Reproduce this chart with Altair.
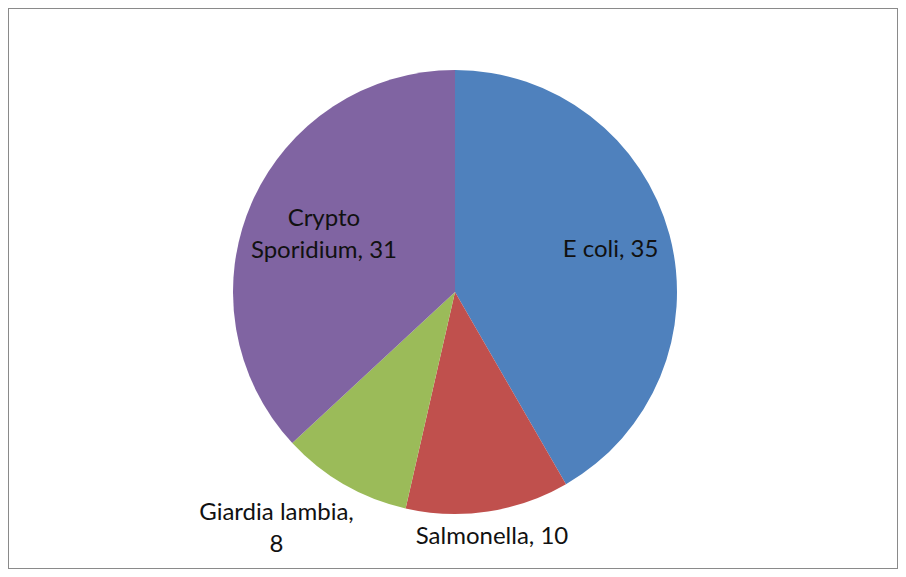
import altair as alt

categories = ["E coli", "Salmonella", "Giardia lambia", "Crypto Sporidium"]
values = [35, 10, 8, 31]
label_lines = [["E coli, 35"], ["Salmonella, 10"], ["Giardia lambia,", "8"], ["Crypto", "Sporidium, 31"]]
colors = ["#4F81BD", "#C0504D", "#9BBB59", "#8064A2"]

rows = [
    {"cat": c, "val": v, "order": i, "label": l}
    for i, (c, v, l) in enumerate(zip(categories, values, label_lines))
]
data = alt.Data(values=rows)

CX, CY = 447, 284

base = alt.Chart(data).encode(
    theta=alt.Theta("val:Q", stack=True),
    order=alt.Order("order:Q"),
    x=alt.value(CX),
    y=alt.value(CY),
)

arcs = base.mark_arc(outerRadius=222).encode(
    color=alt.Color("cat:N", scale=alt.Scale(domain=categories, range=colors), legend=None)
)


def label_layer(cat, radius, dx=0, dy=0):
    return base.transform_calculate(
        t=f"datum.cat == '{cat}' ? datum.label : ''"
    ).mark_text(
        font="Lato", fontSize=24, lineHeight=32, align="center", baseline="middle",
        color="#111111", dx=dx, dy=dy,
    ).encode(
        radius=alt.value(radius),
        text=alt.Text("t:N"),
    )


chart = alt.layer(
    arcs,
    label_layer("E coli", 161),
    label_layer("Crypto Sporidium", 143, dy=-16),
    label_layer("Salmonella", 248),
    label_layer("Giardia lambia", 297, dx=-30, dy=-36),
).properties(
    width=890,
    height=561,
    padding=0,
    autosize=alt.AutoSizeParams(type="fit", contains="padding"),
).configure_view(stroke="#8a8a8a", strokeWidth=2)

chart.save("out.html", embed_options={"renderer": "svg", "actions": False})
